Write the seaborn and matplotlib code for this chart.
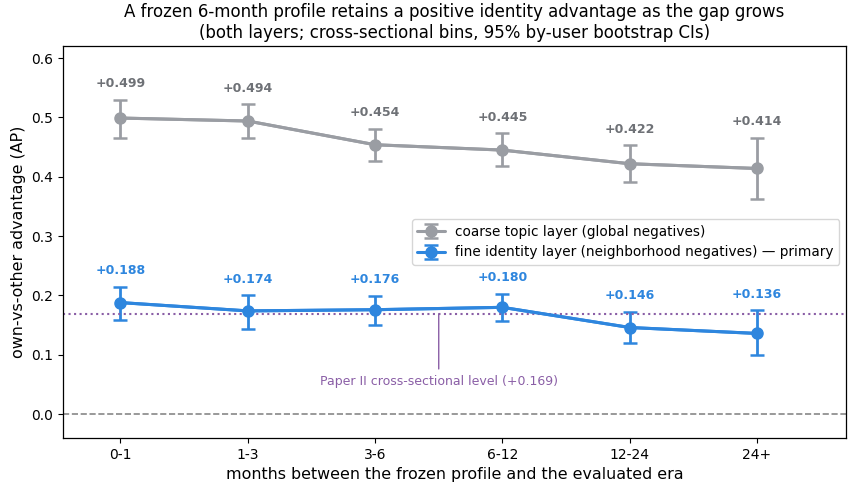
import matplotlib
matplotlib.use("Agg")
import matplotlib.pyplot as plt
import seaborn as sns
import numpy as np
import pandas as pd

categories = ["0-1", "1-3", "3-6", "6-12", "12-24", "24+"]
coarse_vals = [0.499, 0.494, 0.454, 0.445, 0.422, 0.414]
coarse_lo = [0.466, 0.465, 0.426, 0.419, 0.392, 0.363]
coarse_hi = [0.530, 0.522, 0.481, 0.473, 0.453, 0.465]
fine_vals = [0.188, 0.174, 0.176, 0.180, 0.146, 0.136]
fine_lo = [0.159, 0.144, 0.151, 0.157, 0.120, 0.099]
fine_hi = [0.215, 0.200, 0.199, 0.203, 0.172, 0.175]
paper2_level = 0.169

sns.set_style("ticks", {"axes.edgecolor": "black", "text.color": "black",
                        "xtick.color": "black", "ytick.color": "black",
                        "axes.labelcolor": "black"})
plt.rcParams['font.family'] = ['DejaVu Sans']
plt.rcParams['axes.linewidth'] = 0.9

gray = "#9a9da3"
blue = "#2e86de"
purple = "#8a5ea6"

fig, ax = plt.subplots(figsize=(8.53, 4.92), dpi=100)
x = np.arange(len(categories))

series = [
    ("coarse topic layer (global negatives)", coarse_vals, coarse_lo, coarse_hi, gray, "#6e7176"),
    ("fine identity layer (neighborhood negatives) — primary", fine_vals, fine_lo, fine_hi, blue, blue),
]
for label, v, lo, hi, c, tc in series:
    v = np.array(v); lo = np.array(lo); hi = np.array(hi)
    df = pd.DataFrame({"x": x, "y": v})
    sns.lineplot(data=df, x="x", y="y", ax=ax, color=c, lw=2.2, legend=False)
    ax.errorbar(x, v, yerr=[v - lo, hi - v], fmt="-o", color=c, lw=2.2, ms=8,
                capsize=5, capthick=1.8, elinewidth=2, label=label)
    for xi, vi, hi_i in zip(x, v, hi):
        ax.annotate(f"+{vi:.3f}", (xi, hi_i), xytext=(0, 7), textcoords="offset points",
                    ha="center", va="bottom", fontsize=9, fontweight="bold", color=tc)

ax.axhline(0, color="#888888", ls="--", lw=1.2)
ax.axhline(paper2_level, color=purple, ls=":", lw=1.5)
ax.annotate(f"Paper II cross-sectional level (+{paper2_level:.3f})", xy=(2.5, paper2_level),
            xytext=(2.5, 0.055), textcoords="data", ha="center", va="center",
            fontsize=9, color=purple,
            arrowprops=dict(arrowstyle="-", color=purple, lw=1, shrinkA=2, shrinkB=0))

ax.set_xticks(x)
ax.set_xticklabels(categories)
ax.set_xlim(-0.45, 5.7)
ax.set_ylim(-0.04, 0.62)
ax.set_yticks([0.0, 0.1, 0.2, 0.3, 0.4, 0.5, 0.6])
ax.tick_params(labelsize=10)
ax.set_xlabel("months between the frozen profile and the evaluated era", fontsize=11.4)
ax.set_ylabel("own-vs-other advantage (AP)", fontsize=11.4)
ax.set_title("A frozen 6-month profile retains a positive identity advantage as the gap grows\n"
             "(both layers; cross-sectional bins, 95% by-user bootstrap CIs)", fontsize=12)
ax.legend(loc="center right", fontsize=9.8, frameon=True)

fig.subplots_adjust(left=0.074, right=0.992, top=0.906, bottom=0.11)
fig.savefig("out.png", dpi=100)
